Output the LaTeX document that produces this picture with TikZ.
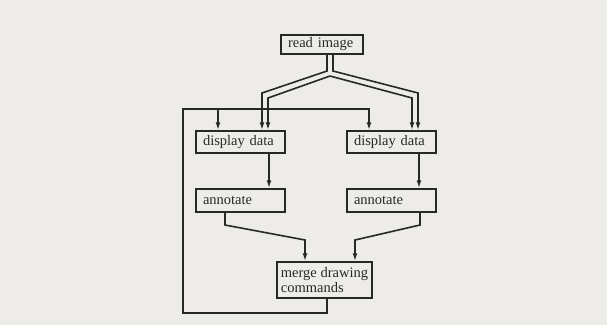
\documentclass[tikz,border=0pt]{standalone}
\usepackage{fontspec}
\setmainfont{Liberation Serif}
\usetikzlibrary{arrows.meta}
\definecolor{bg}{RGB}{237,236,233}
\definecolor{ink}{RGB}{40,40,40}
\begin{document}
\begin{tikzpicture}[x=1pt,y=-1pt,
  box/.style={draw=ink,line width=1.5pt,fill=bg,inner xsep=7pt,inner ysep=0pt,
    text width=75pt,align=left,text=ink,font=\fontsize{14.5}{13}\selectfont},
  link/.style={draw=ink,line width=1.6pt},
  arr/.style={link,-{Latex[length=8pt,width=5pt]}}]
\useasboundingbox[fill=bg] (0,0) rectangle (607,325);
% nodes
\node[box,text width=68pt,minimum height=19pt] (read) at (322,44.5) {read image};
\node[box,minimum height=22pt] (dd1) at (240.5,142) {display data};
\node[box,minimum height=22pt] (dd2) at (391.5,142) {display data};
\node[box,minimum height=23pt] (an1) at (240.5,200.5) {annotate};
\node[box,minimum height=23pt] (an2) at (391.5,200.5) {annotate};
\node[box,text width=,inner xsep=4pt,minimum width=95pt,minimum height=36pt] (merge) at (324.5,280) {merge drawing\\commands};
% double branches from read image
\draw[arr] ([xshift=5pt]read.south) -- (327,71) -- (262,93) -- ([xshift=21.5pt]dd1.north);
\draw[arr] (330,76) -- (268,98) -- ([xshift=27.5pt]dd1.north);
\draw[arr] ([xshift=11pt]read.south) -- (333,71) -- (418,93) -- ([xshift=26.5pt]dd2.north);
\draw[arr] (330,76) -- (412,98) -- ([xshift=20.5pt]dd2.north);
% display -> annotate
\draw[arr] ([xshift=28.5pt]dd1.south) -- ([xshift=28.5pt]an1.north);
\draw[arr] ([xshift=27.5pt]dd2.south) -- ([xshift=27.5pt]an2.north);
% annotate -> merge
\draw[arr] ([xshift=-15.5pt]an1.south) -- (225,225) -- (305,240) -- ([xshift=-19.5pt]merge.north);
\draw[arr] ([xshift=28.5pt]an2.south) -- (420,225) -- (355,240) -- ([xshift=30.5pt]merge.north);
% feedback loop
\draw[arr] ([xshift=2.5pt]merge.south) -- (327,313) -- (183,313) -- (183,109) -- (369,109) -- ([xshift=-22.5pt]dd2.north);
\draw[arr] (218,109) -- ([xshift=-22.5pt]dd1.north);
\end{tikzpicture}
\end{document}
